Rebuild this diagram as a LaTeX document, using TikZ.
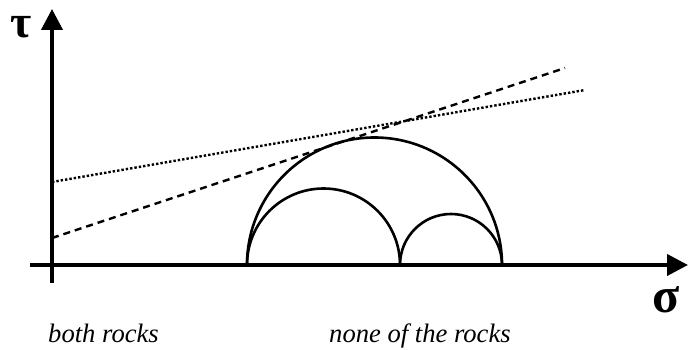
\documentclass[tikz,border=0pt]{standalone}
\usepackage{fontspec}
\setmainfont{Liberation Serif}
\usepackage{tikz}
\usetikzlibrary{arrows.meta,positioning}

\begin{document}
\begin{tikzpicture}[
  x=1pt, y=1pt,
  axis/.style={line width=4pt, -{Triangle[length=21pt,width=21pt]}},
  circ/.style={line width=2.6pt},
  env/.style={line width=2.4pt},
  lbl/.style={font=\fontsize{26.6}{30}\selectfont\itshape, inner sep=0pt, anchor=base west},
  sym/.style={inner sep=0pt}
]
\useasboundingbox (0,0) rectangle (688,350);
% axes
\coordinate (o) at (52,85);
\coordinate (xl) at (30,85);
\coordinate (xr) at (688,85);
\coordinate (yb) at (52,67);
\coordinate (yt) at (52,341);
\draw[axis] (xl) -- (xr);
\draw[axis] (yb) -- (yt);
\node[sym, font=\fontsize{50}{52}\selectfont\bfseries] (sig) at (666,50) {σ};
\node[sym, font=\fontsize{46}{48}\selectfont\bfseries] (tau) at (21,323) {τ};
% Mohr circles
\draw[circ] (247,85) arc[start angle=180, end angle=0, radius=127.5];
\draw[circ] (247,85) arc[start angle=180, end angle=0, radius=76.5];
\draw[circ] (400,85) arc[start angle=180, end angle=0, radius=51];
% failure envelopes
\coordinate (dt0) at (52,168);
\coordinate (dt1) at (585,260);
\coordinate (ds0) at (52,112);
\coordinate (ds1) at (565,282);
\draw[env, dotted] (dt0) -- (dt1);
\draw[env, dash pattern=on 7pt off 5pt] (ds0) -- (ds1);
% labels
\node[lbl] (both) at (48,7) {both rocks};
\node[lbl] (none) at (329,7) {none of the rocks};
\end{tikzpicture}
\end{document}
